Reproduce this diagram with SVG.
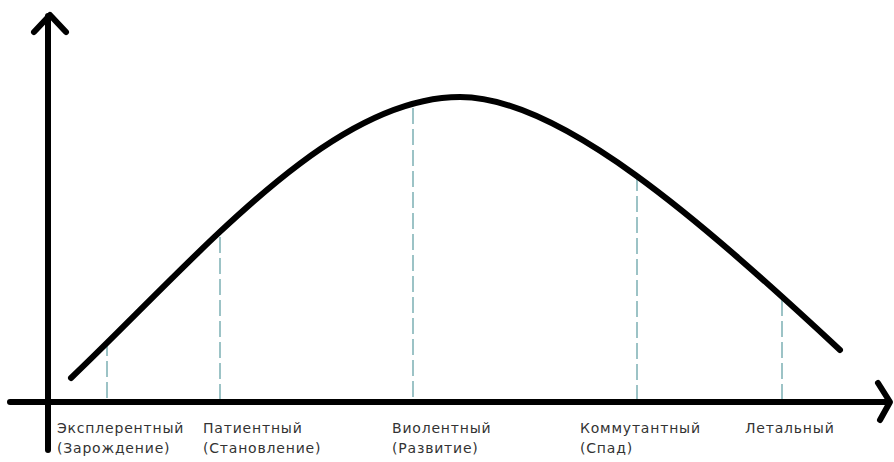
<svg xmlns="http://www.w3.org/2000/svg" width="894" height="462" viewBox="0 0 894 462">
<style>
.axis{stroke:#000;stroke-width:6;fill:none;stroke-linecap:round;stroke-linejoin:round}
.curve{stroke:#000;stroke-width:6;fill:none;stroke-linecap:round}
.guide{stroke:#9cc3c6;stroke-width:2;stroke-dasharray:16 5;fill:none}
.lbl{font-family:"DejaVu Sans",sans-serif;font-size:14px;letter-spacing:0.8px;fill:#333}
</style>
<rect width="894" height="462" fill="#fff"/>
<g id="connectors">
<line class="guide" x1="107" y1="340" x2="107" y2="400"/>
<line class="guide" x1="220" y1="237" x2="220" y2="400"/>
<line class="guide" x1="413" y1="108" x2="413" y2="400"/>
<line class="guide" x1="637" y1="175" x2="637" y2="400"/>
<line class="guide" x1="782" y1="300" x2="782" y2="400"/>
</g>
<g id="axes">
<line class="axis" x1="48" y1="450" x2="48" y2="16"/>
<polyline class="axis" points="34,32 50,15 66,32"/>
<line class="axis" x1="10" y1="402" x2="888" y2="402"/>
<polyline class="axis" points="878,383 890,402 880,420"/>
</g>
<g id="curve">
<path class="curve" d="M71,378 C200,255 330,97 460,97 C560,97 700,220 840,350"/>
</g>
<g id="label-1"><text class="lbl" x="57" y="433">Эксплерентный</text><text class="lbl" x="57" y="453">(Зарождение)</text></g>
<g id="label-2"><text class="lbl" x="203" y="433">Патиентный</text><text class="lbl" x="203" y="453">(Становление)</text></g>
<g id="label-3"><text class="lbl" x="392" y="433">Виолентный</text><text class="lbl" x="392" y="453">(Развитие)</text></g>
<g id="label-4"><text class="lbl" x="580" y="433">Коммутантный</text><text class="lbl" x="580" y="453">(Спад)</text></g>
<g id="label-5"><text class="lbl" x="745" y="433">Летальный</text></g>
</svg>
